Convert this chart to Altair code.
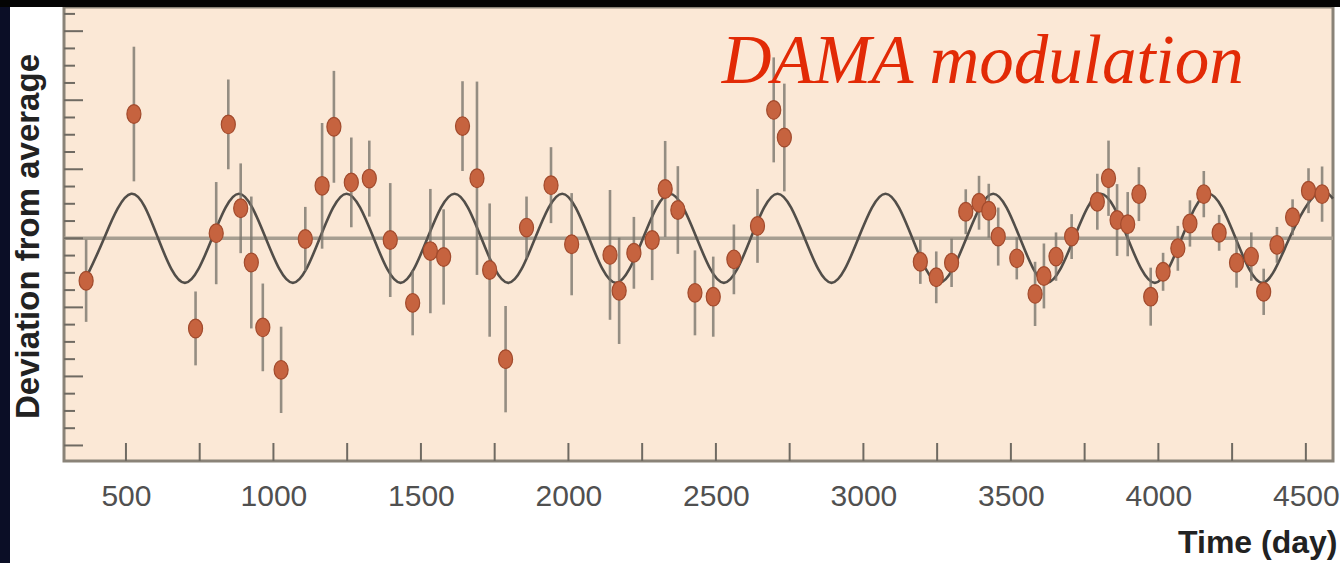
import altair as alt
import pandas as pd

# ---- data ----
day = [365, 527, 847, 736, 806, 889, 925, 964, 1026, 1108,
       1165, 1205, 1264, 1325, 1396, 1472, 1532, 1577, 1641, 1690,
       1733, 1787, 1858, 1941, 2011, 2141, 2172, 2222, 2284, 2328,
       2371, 2429, 2491, 2561, 2641, 2696, 2732, 3193, 3247, 3299,
       3347, 3392, 3425, 3457, 3520, 3582, 3612, 3653, 3706, 3793,
       3831, 3860, 3896, 3934, 3974, 4016, 4066, 4107, 4154, 4206,
       4265, 4315, 4357, 4402, 4455, 4509, 4555]
dev = [-0.0123, 0.0360, 0.0330, -0.0261, 0.0015, 0.0087, -0.0070, -0.0258, -0.0381, -0.0002,
       0.0152, 0.0323, 0.0162, 0.0173, -0.0005, -0.0187, -0.0037, -0.0054, 0.0325, 0.0174,
       -0.0092, -0.0350, 0.0031, 0.0154, -0.0017, -0.0048, -0.0152, -0.0042, -0.0005, 0.0143,
       0.0082, -0.0158, -0.0169, -0.0061, 0.0036, 0.0372, 0.0292, -0.0068, -0.0113, -0.0071,
       0.0077, 0.0103, 0.0080, 0.0005, -0.0058, -0.0161, -0.0109, -0.0053, 0.0005, 0.0106,
       0.0174, 0.0053, 0.0041, 0.0128, -0.0169, -0.0097, -0.0029, 0.0043, 0.0128, 0.0016,
       -0.0071, -0.0053, -0.0155, -0.0019, 0.0061, 0.0138, 0.0128]
err = [0.0119, 0.0195, 0.0130, 0.0107, 0.0148, 0.0130, 0.0191, 0.0127, 0.0125, 0.0093,
       0.0182, 0.0162, 0.0130, 0.0110, 0.0165, 0.0094, 0.0180, 0.0138, 0.0130, 0.0280,
       0.0193, 0.0154, 0.0090, 0.0110, 0.0148, 0.0188, 0.0154, 0.0104, 0.0116, 0.0139,
       0.0127, 0.0123, 0.0116, 0.0101, 0.0107, 0.0152, 0.0156, 0.0064, 0.0075, 0.0070,
       0.0065, 0.0078, 0.0078, 0.0084, 0.0061, 0.0093, 0.0094, 0.0070, 0.0065, 0.0081,
       0.0109, 0.0104, 0.0093, 0.0078, 0.0084, 0.0055, 0.0065, 0.0067, 0.0067, 0.0052,
       0.0072, 0.0070, 0.0067, 0.0052, 0.0052, 0.0065, 0.0080]

# modulation curve: extrema and zero crossings
curve_day = [370, 426, 518, 609, 700, 792, 883, 974, 1066, 1157, 1248, 1340,
             1431, 1522, 1614, 1705, 1796, 1887, 1979, 2070, 2161, 2253, 2344,
             2435, 2527, 2618, 2709, 2801, 2892, 2983, 3075, 3166, 3257, 3349,
             3440, 3531, 3622, 3714, 3805, 3896, 3988, 4079, 4170, 4262, 4353,
             4444, 4536, 4592]
curve_val = [-0.0105, 0, 0.0129, 0, -0.0129, 0, 0.0129, 0, -0.0129, 0, 0.0129, 0,
             -0.0129, 0, 0.0129, 0, -0.0129, 0, 0.0129, 0, -0.0129, 0, 0.0129,
             0, -0.0129, 0, 0.0129, 0, -0.0129, 0, 0.0129, 0, -0.0129, 0,
             0.0129, 0, -0.0129, 0, 0.0129, 0, -0.0129, 0, 0.0129, 0, -0.0129,
             0, 0.0129, 0.0115]

x_ticks = [500, 750, 1000, 1250, 1500, 1750, 2000, 2250, 2500, 2750, 3000,
           3250, 3500, 3750, 4000, 4250, 4500]
x_labels = [500, 1000, 1500, 2000, 2500, 3000, 3500, 4000, 4500]
y_major = [-0.06, -0.04, -0.02, 0.0, 0.02, 0.04, 0.06]
y_minor = [-0.055, -0.05, -0.045, -0.035, -0.03, -0.025, -0.015, -0.01, -0.005,
           0.005, 0.01, 0.015, 0.025, 0.03, 0.035, 0.045, 0.05, 0.055, 0.065]

annot_day = [2520]
annot_dev = [0.045]
annot_text = ["DAMA modulation"]

# ---- layout ----
W, H = 1269, 454
X_DOMAIN = [290, 4592]
Y_DOMAIN = [-0.0645, 0.067]
FRAME = "#8a8378"
TICK = "#6f6a62"

xs = alt.Scale(domain=X_DOMAIN, nice=False, zero=False)
ys = alt.Scale(domain=Y_DOMAIN, nice=False, zero=False)

x_axis = alt.Axis(
    values=x_labels, format="d", ticks=False, domain=False, grid=False,
    labelFont="Liberation Sans", labelFontSize=30, labelColor="#505050",
    labelPadding=20, labelFlush=False, labelBound=False, labelOverlap=False,
    title="Time (day)", titleFont="Liberation Sans", titleFontSize=32,
    titleFontWeight="bold", titleColor="#222222",
    titleX=1273, titleY=91, titleAlign="right", titleBaseline="alphabetic",
)
y_axis = alt.Axis(
    labels=False, ticks=False, domain=False, grid=False,
    title="Deviation from average", titleFont="Liberation Sans", titleFontSize=33,
    titleFontWeight="bold", titleColor="#222222", titleAngle=270,
    titleX=-26, titleY=229, titleAlign="center", titleBaseline="alphabetic",
)


def xe(field="day"):
    return alt.X(f"{field}:Q", scale=xs, axis=x_axis)


def ye(field="dev"):
    return alt.Y(f"{field}:Q", scale=ys, axis=y_axis)


pts = pd.DataFrame({"day": day, "dev": dev, "err": err})
pts["lo"] = pts["dev"] - pts["err"]
pts["hi"] = pts["dev"] + pts["err"]
curve = pd.DataFrame({"day": curve_day, "dev": curve_val})

zero_line = alt.Chart(pd.DataFrame({"dev": [0.0]})).mark_rule(
    color="#a69e91", strokeWidth=3.5
).encode(y=ye())

curve_line = alt.Chart(curve).mark_line(
    color="#524e49", strokeWidth=2.6, interpolate="natural"
).encode(x=xe(), y=ye())

bars = alt.Chart(pts).mark_rule(color="#7b766d", strokeWidth=2.6, opacity=0.8).encode(
    x=xe(), y=ye("lo"), y2="hi:Q"
)

ellipse = ("M0,-1 C0.42,-1 0.75,-0.55 0.75,0 C0.75,0.55 0.42,1 0,1 "
           "C-0.42,1 -0.75,0.55 -0.75,0 C-0.75,-0.55 -0.42,-1 0,-1 Z")
points = alt.Chart(pts).mark_point(
    shape=ellipse, filled=True, size=350, fill="#c6633f", stroke="#a24b2d",
    strokeWidth=1.2, opacity=1,
).encode(x=xe(), y=ye())

xt = alt.Chart(pd.DataFrame({"day": x_ticks})).mark_rule(color=TICK, strokeWidth=2).encode(
    x=xe(), y=alt.value(H), y2=alt.value(H - 18)
)
ytmaj = alt.Chart(pd.DataFrame({"dev": y_major})).mark_rule(color=TICK, strokeWidth=2).encode(
    y=ye(), x=alt.value(0), x2=alt.value(19)
)
ytmin = alt.Chart(pd.DataFrame({"dev": y_minor})).mark_rule(color=TICK, strokeWidth=2).encode(
    y=ye(), x=alt.value(0), x2=alt.value(11)
)

ann = pd.DataFrame({"day": annot_day, "dev": annot_dev, "label": annot_text})
ann_text = alt.Chart(ann).mark_text(
    font="Liberation Serif", fontStyle="italic", fontSize=69, color="#e22a06",
    align="left", baseline="alphabetic",
).encode(x=xe(), y=ye(), text="label:N")

one = pd.DataFrame({"k": [0]})
left_strip = alt.Chart(one).mark_rect(color="#0b0e26").encode(
    x=alt.value(-64), x2=alt.value(-54), y=alt.value(-7), y2=alt.value(H + 102)
)
top_strip = alt.Chart(one).mark_rect(color="#040404").encode(
    x=alt.value(-64), x2=alt.value(W + 7), y=alt.value(-7), y2=alt.value(0)
)

chart = alt.layer(
    zero_line, curve_line, bars, points, xt, ytmaj, ytmin, ann_text,
    left_strip, top_strip,
).properties(
    width=W, height=H,
    autosize=alt.AutoSizeParams(type="none"),
    padding={"left": 64, "top": 7, "right": 7, "bottom": 102},
    background="white",
).configure_view(
    fill="#fbe8d6", stroke=FRAME, strokeWidth=3,
)

chart.save("out.html", embed_options={"renderer": "svg", "actions": False})
